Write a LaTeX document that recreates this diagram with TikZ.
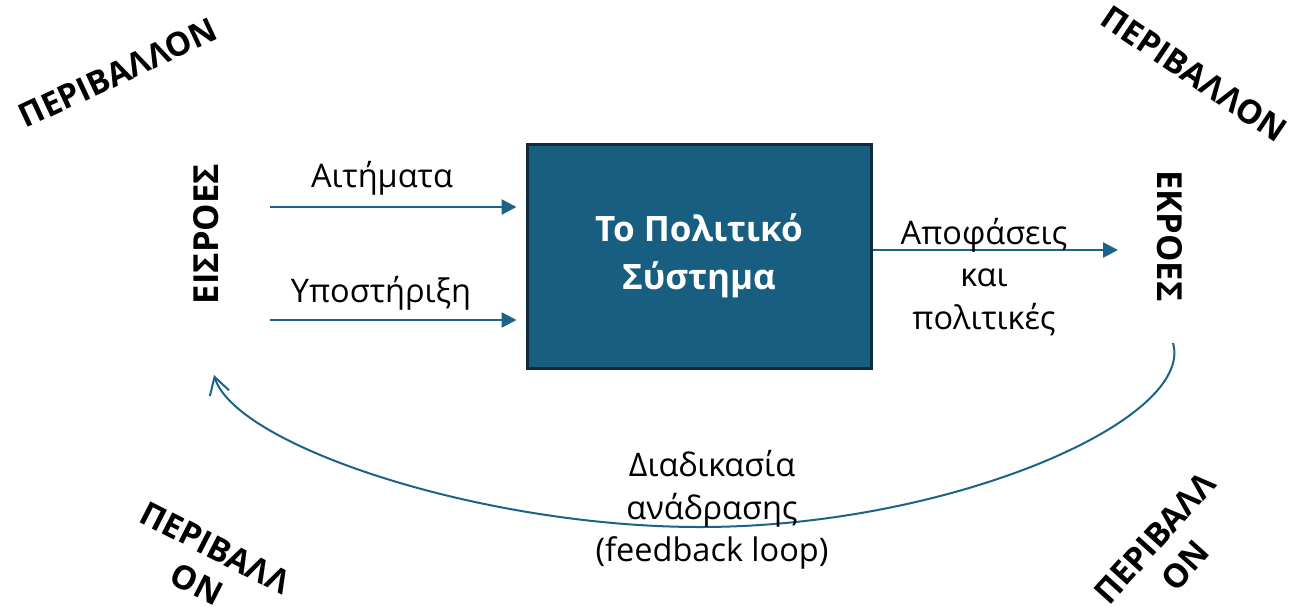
\documentclass[tikz,border=0pt]{standalone}
\usepackage{fontspec}
\setmainfont{Open Sans}
\usetikzlibrary{arrows.meta}
\definecolor{boxfill}{HTML}{185E80}
\definecolor{boxline}{HTML}{0E2C3C}
\definecolor{arrowc}{HTML}{1B6487}
\begin{document}
\begin{tikzpicture}[x=1pt,y=-1pt,
  lbl/.style={font=\fontsize{32.5}{42.5}\selectfont, align=center, inner sep=0pt},
  env/.style={font=\fontsize{33}{41}\selectfont\bfseries, align=center, inner sep=0pt},
  side/.style={font=\fontsize{34.5}{40}\selectfont\bfseries, inner sep=0pt},
  sysbox/.style={draw=boxline, line width=3pt, fill=boxfill, minimum width=344pt, minimum height=224pt,
    inner sep=0pt, text=white, align=center, font=\fontsize{35}{48}\selectfont\bfseries},
  flow/.style={draw=arrowc, line width=2.5pt, -{Triangle[length=15pt,width=15pt]}},
  fb/.style={draw=arrowc, line width=2pt, -{Straight Barb[length=17pt,width=20pt]}}
]
\useasboundingbox (0,0) rectangle (1289,606);
\fill[white] (0,0) rectangle (1289,606);
\node[sysbox] (sys) at (699,256) {Το Πολιτικό\\Σύστημα};

\coordinate (in1) at (270,207);
\coordinate (in2) at (270,320);
\coordinate (out1) at (1118,250);
\draw[flow, shorten >=9pt] (in1) -- (in1 -| sys.west);
\draw[flow, shorten >=9pt] (in2) -- (in2 -| sys.west);
\draw[flow] (out1 -| sys.east) -- (out1);

\node[lbl, anchor=base] (dem) at (382,187) {Αιτήματα};
\node[lbl, anchor=base] (sup) at (381,302) {Υποστήριξη};
\node[lbl] (dec) at (984,277) {Αποφάσεις\\και\\πολιτικές};

\node[side, rotate=90] (inp) at (206,234) {ΕΙΣΡΟΕΣ};
\node[side, rotate=-90] (outp) at (1170,236) {ΕΚΡΟΕΣ};

\coordinate (fbs) at (1173,343);
\coordinate (fbe) at (214,375);
\draw[fb] (fbs) .. controls (1195,420) and (950,527) .. (700,527)
  .. controls (480,527) and (235,445) .. (fbe);
\node[lbl] (fbl) at (712,510) {Διαδικασία\\ανάδρασης\\(feedback loop)};

\node[env, rotate=25] (e1) at (118,73) {ΠΕΡΙΒΑΛΛΟΝ};
\node[env, rotate=-34] (e2) at (1194,74) {ΠΕΡΙΒΑΛΛΟΝ};
\node[env, rotate=-27] (e3) at (206,566) {ΠΕΡΙΒΑΛΛ\\ΟΝ};
\node[env, rotate=48] (e4) at (1170,552) {ΠΕΡΙΒΑΛΛ\\ΟΝ};
\end{tikzpicture}
\end{document}
